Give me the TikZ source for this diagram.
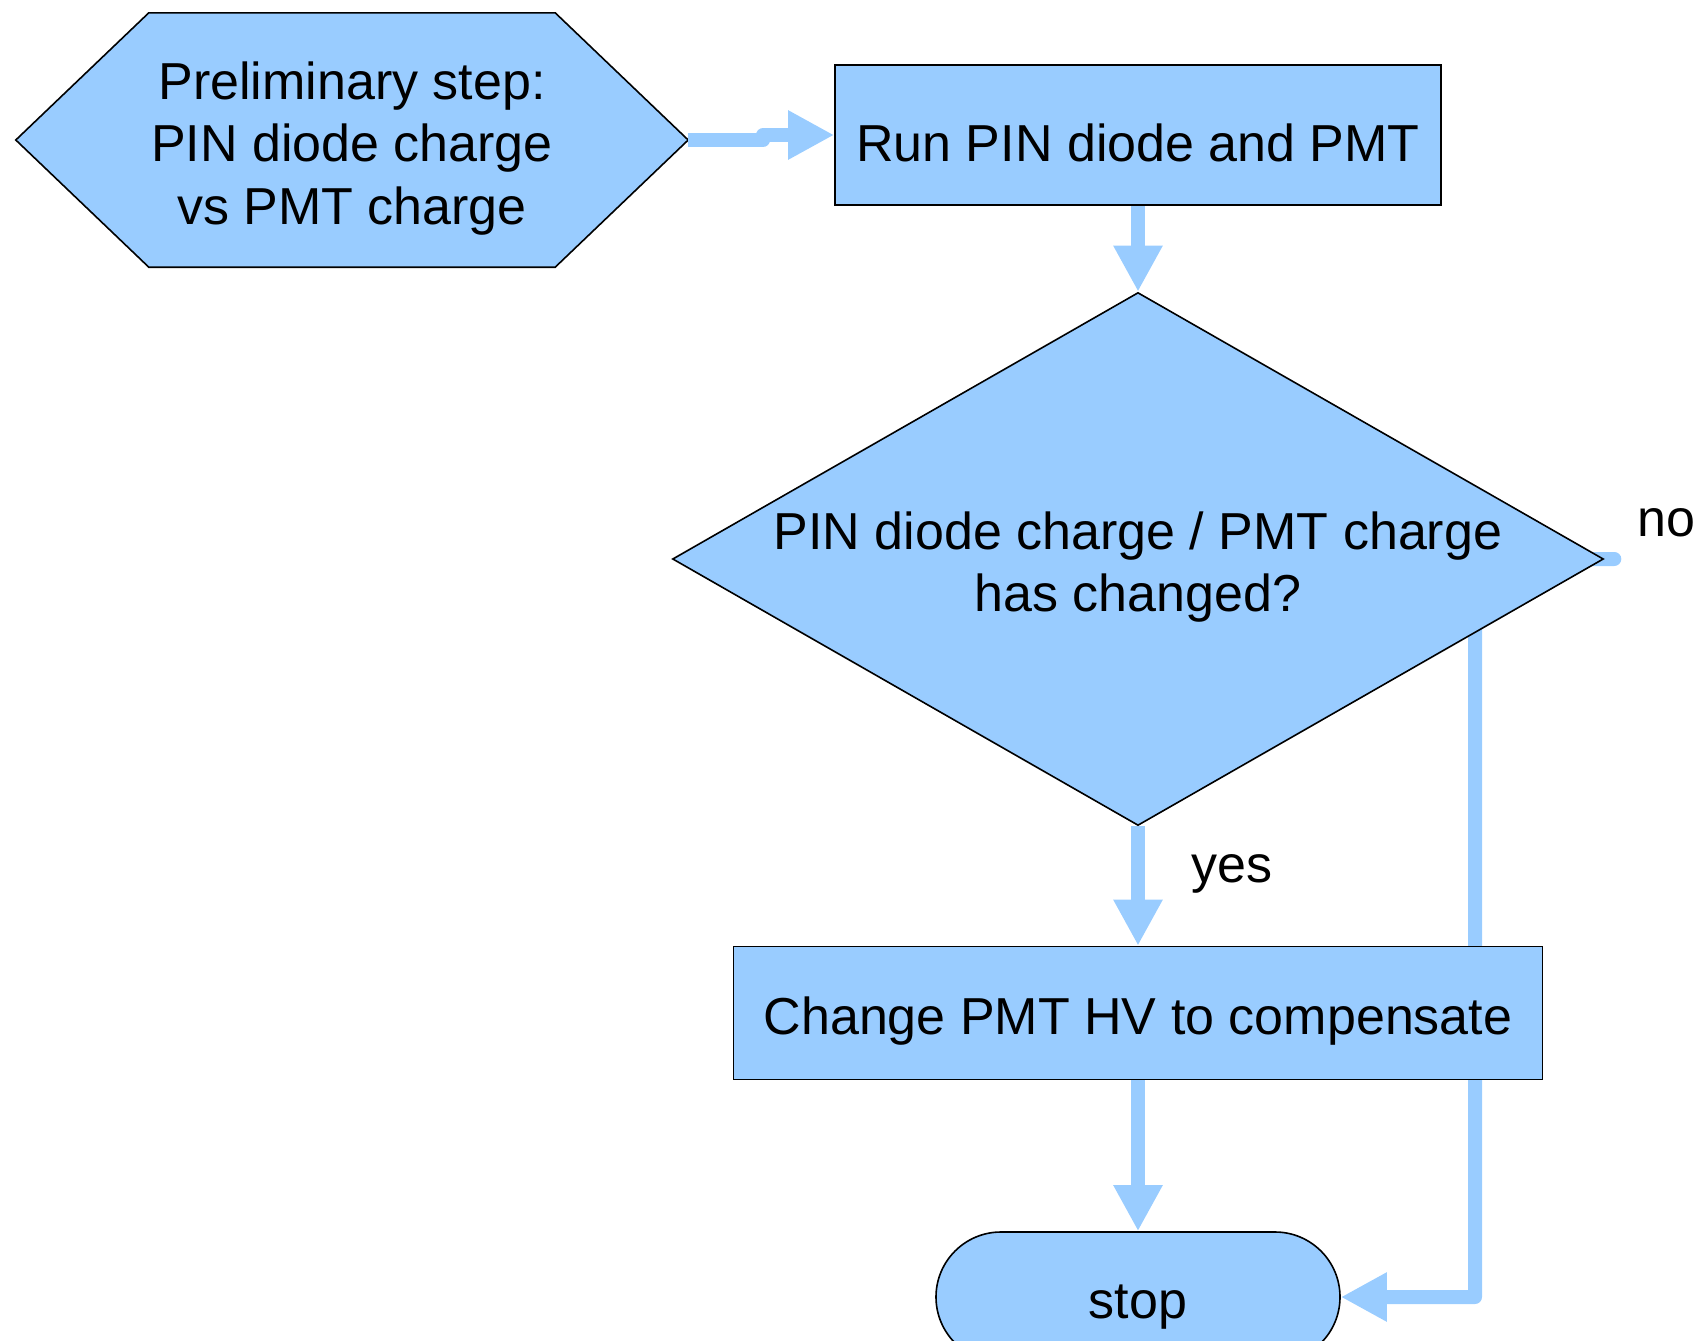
\documentclass[tikz,border=0pt]{standalone}
\usepackage{fontspec}
\setmainfont{Liberation Sans}
\usetikzlibrary{shapes.geometric, shapes.misc, arrows.meta, backgrounds}
\definecolor{boxblue}{HTML}{99CCFF}
\newcommand{\liftstrut}{\rule{0pt}{54pt}}
\tikzset{
    block/.style={draw, line width=1.6pt, fill=boxblue, inner sep=0pt, align=center},
    flow/.style={draw=boxblue, line width=14pt, line join=round, -{Triangle[length=46pt, width=46pt]}},
}
\begin{document}
\begin{tikzpicture}[x=1pt, y=-1pt, font=\fontsize{52}{62.5}\selectfont]
    \useasboundingbox (0,0) rectangle (1706,1341);
    \node[align=center, minimum width=672pt, minimum height=254pt, inner sep=0pt] (prelim) at (352,140) {\liftstrut Preliminary step:\\PIN diode charge\\vs PMT charge};
    \node[block, rectangle, minimum width=606pt, minimum height=140pt] (run) at (1138,135) {\liftstrut Run PIN diode and PMT};
    \node[block, diamond, aspect=1.78, inner xsep=-20pt, minimum width=931pt, minimum height=533pt] (test) at (1138,559) {\liftstrut PIN diode charge / PMT charge\\has changed?};
    \node[block, rectangle, minimum width=809pt, minimum height=133pt] (change) at (1138,1013) {\liftstrut Change PMT HV to compensate};
    \node[block, rounded rectangle, minimum width=404pt, minimum height=130pt] (stop) at (1138,1297) {\liftstrut stop};
    \node (no) at (1666,523) {no};
    \node (yes) at (1232,874) {yes};
    \coordinate (noturn) at (1475,560);
    \begin{scope}[on background layer]
        \filldraw[block] (prelim.west) -- ([xshift=133pt]prelim.north west) -- ([xshift=-133pt]prelim.north east) -- (prelim.east) -- ([xshift=-133pt]prelim.south east) -- ([xshift=133pt]prelim.south west) -- cycle;
        \draw[flow] (prelim.east) -- +(75,0) |- (run.west);
        \draw[flow] (run.south) -- (test.north);
        \draw[flow] (test.south) -- (change.north);
        \draw[flow] (change.south) -- (stop.north);
        \draw[flow] (test.east) -- ++(10,0) -- (noturn) |- (stop.east);
    \end{scope}
\end{tikzpicture}
\end{document}
